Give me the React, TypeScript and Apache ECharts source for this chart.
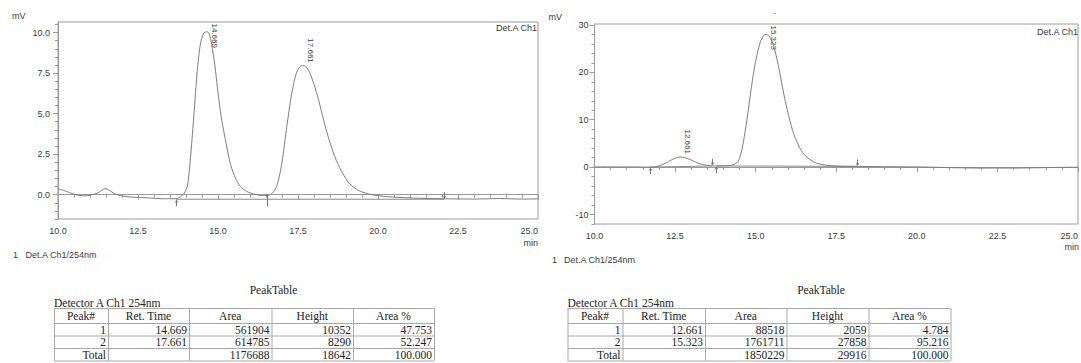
import React, { useEffect, useRef } from "react";
import * as echarts from "echarts";

// ---------- Data: left chromatogram ----------
const leftTime = [
  10.0, 10.2, 10.4, 10.6, 10.85, 11.0, 11.12, 11.22, 11.32, 11.42, 11.5, 11.6, 11.75, 11.95, 12.3, 12.8,
  13.3, 13.69, 13.85, 13.95, 14.05, 14.15, 14.25, 14.35, 14.45, 14.55, 14.65, 14.72, 14.8, 14.9, 15.0,
  15.1, 15.2, 15.3, 15.4, 15.55, 15.7, 15.9, 16.1, 16.35, 16.55, 16.7, 16.85, 17.0, 17.15, 17.3, 17.45,
  17.6, 17.7, 17.85, 18.0, 18.15, 18.3, 18.5, 18.7, 18.9, 19.1, 19.4, 19.8, 20.3, 21.0, 22.0, 23.0,
  23.8, 24.5, 25.0,
];
const leftSignal = [
  0.35, 0.25, 0.1, -0.02, -0.07, -0.03, 0.03, 0.08, 0.2, 0.33, 0.37, 0.28, 0.08, -0.06, -0.15, -0.2,
  -0.25, -0.25, -0.1, 0.1, 0.6, 2.5, 5.0, 7.6, 9.3, 9.95, 10.05, 9.95, 9.3, 8.0, 6.3,
  4.8, 3.7, 2.7, 1.8, 1.0, 0.5, 0.2, 0.05, -0.05, -0.05, 0.1, 0.6, 2.0, 4.2, 6.2, 7.5,
  7.95, 7.95, 7.6, 6.8, 5.8, 4.6, 3.2, 2.1, 1.3, 0.7, 0.25, 0.0, -0.12, -0.2, -0.25, -0.27,
  -0.24, -0.27, -0.26,
];
const leftBaselineTime = [13.69, 22.07];
const leftBaselineLevel = [-0.28, -0.28];
const leftMarkerTime = [13.69, 16.53, 22.07];
const leftMarkerLevel = [-0.28, -0.28, -0.28];
const leftMarkerSide = [1, 0, -1];
const leftPeakTime = [14.669, 17.661];
const leftPeakTop = [10.05, 7.95];

// ---------- Data: right chromatogram ----------
const rightTime = [
  10.0, 11.0, 11.7, 11.9, 12.1, 12.3, 12.5, 12.65, 12.8, 13.0, 13.2, 13.4, 13.6, 13.8, 14.1, 14.3,
  14.45, 14.55, 14.65, 14.75, 14.85, 14.95, 15.05, 15.15, 15.25, 15.33, 15.42, 15.5, 15.6, 15.7, 15.8,
  15.9, 16.0, 16.1, 16.2, 16.35, 16.5, 16.7, 16.9, 17.2, 17.6, 18.1, 19.0, 20.0, 21.0, 22.0, 23.0,
  24.0, 25.0,
];
const rightSignal = [
  0.05, 0.05, 0.0, 0.1, 0.5, 1.2, 1.9, 2.15, 2.0, 1.5, 0.9, 0.5, 0.3, 0.25, 0.3, 0.5,
  1.2, 3.0, 6.5, 11.0, 16.0, 20.5, 24.0, 26.5, 27.8, 28.05, 27.6, 26.6, 24.5, 21.5, 18.0,
  14.5, 11.5, 8.8, 6.6, 4.3, 2.7, 1.5, 0.8, 0.4, 0.2, 0.15, 0.1, 0.05, -0.1, -0.2, -0.2,
  -0.1, 0.0,
];
const rightBaselineSegments = [
  [[11.72, 0.0], [13.64, 0.25]],
  [[13.78, 0.25], [18.14, 0.15]],
];
const rightMarkerTime = [11.72, 13.64, 13.78, 18.14];
const rightMarkerLevel = [0.0, 0.25, 0.25, 0.15];
const rightMarkerSide = [1, -1, 1, -1];
const rightPeakTime = [12.661, 15.323];
const rightPeakTop = [2.15, 28.05];

// ---------- Tick labels ----------
const xTickLabels = [10.0, 12.5, 15.0, 17.5, 20.0, 22.5, 25.0];
const leftYTicks = [0, 2.5, 5, 7.5, 10];
const rightYTicks = [-10, 0, 10, 20, 30];

// ---------- Peak tables ----------
const tableHeaders = ["Peak#", "Ret. Time", "Area", "Height", "Area %"];
const leftTablePeak = ["1", "2", "Total"];
const leftTableRet = ["14.669", "17.661", ""];
const leftTableArea = ["561904", "614785", "1176688"];
const leftTableHeight = ["10352", "8290", "18642"];
const leftTablePct = ["47.753", "52.247", "100.000"];
const rightTablePeak = ["1", "2", "Total"];
const rightTableRet = ["12.661", "15.323", ""];
const rightTableArea = ["88518", "1761711", "1850229"];
const rightTableHeight = ["2059", "27858", "29916"];
const rightTablePct = ["4.784", "95.216", "100.000"];

const SANS = "'Liberation Sans', Arial, sans-serif";
const SERIF = "'Liberation Serif', 'Times New Roman', serif";
const AX = "#9a9a9a";
const TXT = "#3a3a3a";
const CURVE = "#7c7c7c";

function minorTicks(min: number, max: number, step: number, majors: number[]) {
  const out: number[] = [];
  const start = Math.ceil(min / step - 1e-9);
  const end = Math.floor(max / step + 1e-9);
  for (let i = start; i <= end; i++) {
    const v = +(i * step).toFixed(4);
    if (!majors.some((m) => Math.abs(m - v) < 1e-6)) out.push(v);
  }
  return out;
}

function textWidth(s: string, size: number) {
  let w = 0;
  for (const c of s) w += c === "." ? 0.278 : 0.556;
  return w * size;
}

export default function App() {
  const ref = useRef<HTMLDivElement>(null);

  useEffect(() => {
    if (!ref.current) return;
    const chart = echarts.init(ref.current, null, { renderer: "svg" });

    const grids = [
      { left: 58, top: 22, width: 480, height: 197 },
      { left: 594.5, top: 24, width: 484.5, height: 200 },
    ];
    const yRanges = [
      { min: -1.5, max: 10.65, majors: leftYTicks, step: 0.5, fmt: (v: number) => Number(v).toFixed(1) },
      { min: -12, max: 30.2, majors: rightYTicks, step: 2, fmt: (v: number) => String(Math.round(Number(v))) },
    ];

    const xAxes = grids.map((_, i) => ({
      type: "value",
      gridIndex: i,
      min: 10,
      max: 25,
      interval: 2.5,
      axisLine: { show: true, lineStyle: { color: AX, width: 1 } },
      axisTick: { show: true, length: 5, lineStyle: { color: AX } },
      minorTick: { show: true, splitNumber: 5, length: 3, lineStyle: { color: AX } },
      axisLabel: {
        color: TXT,
        fontSize: 9,
        fontFamily: SANS,
        margin: 7,
        alignMaxLabel: "right",
        customValues: xTickLabels,
        formatter: (v: number) => Number(v).toFixed(1),
      },
      splitLine: { show: false },
      minorSplitLine: { show: false },
    }));

    const yAxes: any[] = [];
    yRanges.forEach((r, i) => {
      yAxes.push({
        type: "value",
        gridIndex: i,
        position: "left",
        min: r.min,
        max: r.max,
        axisLine: { show: true, lineStyle: { color: AX, width: 1 } },
        axisTick: { show: true, length: 5, customValues: r.majors, lineStyle: { color: AX } },
        axisLabel: {
          customValues: r.majors,
          formatter: r.fmt,
          color: TXT,
          fontSize: 9,
          fontFamily: SANS,
          margin: i === 0 ? 8 : 6,
        },
        splitLine: { show: false },
      });
      yAxes.push({
        type: "value",
        gridIndex: i,
        position: "left",
        min: r.min,
        max: r.max,
        axisLine: { show: false },
        axisTick: {
          show: true,
          length: 3,
          customValues: minorTicks(r.min, r.max, r.step, r.majors),
          lineStyle: { color: AX },
        },
        axisLabel: { show: false },
        splitLine: { show: false },
      });
    });

    const markerRender = (params: any, api: any) => {
      const p = api.coord([api.value(0), api.value(1)]);
      const side = api.value(2);
      const x = Math.round(p[0]) + 0.5;
      const y = p[1];
      let y1 = y, y2 = y;
      const children: any[] = [];
      if (side > 0) {
        y1 = y + 1;
        y2 = y + 7;
        children.push({
          type: "polyline",
          shape: { points: [[x - 1.5, y + 3.5], [x, y + 1], [x + 1.5, y + 3.5]] },
          style: { stroke: "#777", fill: "none", lineWidth: 0.8 },
        });
      } else if (side < 0) {
        y1 = y - 7;
        y2 = y - 1;
        children.push({
          type: "polyline",
          shape: { points: [[x - 1.5, y - 3.5], [x, y - 1], [x + 1.5, y - 3.5]] },
          style: { stroke: "#777", fill: "none", lineWidth: 0.8 },
        });
      } else {
        y1 = y - 5;
        y2 = y + 7;
      }
      children.push({
        type: "line",
        shape: { x1: x, y1, x2: x, y2 },
        style: { stroke: "#777", lineWidth: 1 },
      });
      return { type: "group", children };
    };

    const series: any[] = [
      {
        type: "line",
        xAxisIndex: 0,
        yAxisIndex: 0,
        data: leftTime.map((t, i) => [t, leftSignal[i]]),
        showSymbol: false,
        smooth: 0.25,
        lineStyle: { color: CURVE, width: 1 },
        z: 3,
      },
      {
        type: "line",
        xAxisIndex: 0,
        yAxisIndex: 0,
        data: leftBaselineTime.map((t, i) => [t, leftBaselineLevel[i]]),
        showSymbol: false,
        lineStyle: { color: "#8a8a8a", width: 1 },
        z: 2,
      },
      {
        type: "custom",
        xAxisIndex: 0,
        yAxisIndex: 0,
        renderItem: markerRender,
        data: leftMarkerTime.map((t, i) => [t, leftMarkerLevel[i], leftMarkerSide[i]]),
        clip: false,
        z: 4,
      },
      {
        type: "line",
        xAxisIndex: 1,
        yAxisIndex: 2,
        data: rightTime.map((t, i) => [t, rightSignal[i]]),
        showSymbol: false,
        smooth: 0.25,
        lineStyle: { color: CURVE, width: 1 },
        z: 3,
      },
      ...rightBaselineSegments.map((seg) => ({
        type: "line",
        xAxisIndex: 1,
        yAxisIndex: 2,
        data: seg,
        showSymbol: false,
        lineStyle: { color: "#8a8a8a", width: 1 },
        z: 2,
      })),
      {
        type: "custom",
        xAxisIndex: 1,
        yAxisIndex: 2,
        renderItem: markerRender,
        data: rightMarkerTime.map((t, i) => [t, rightMarkerLevel[i], rightMarkerSide[i]]),
        clip: false,
        z: 4,
      },
    ];

    chart.setOption({
      animation: false,
      backgroundColor: "#ffffff",
      grid: grids.map((g) => ({
        ...g,
        show: true,
        borderColor: AX,
        borderWidth: 1,
        backgroundColor: "#ffffff",
        containLabel: false,
      })),
      xAxis: xAxes,
      yAxis: yAxes,
      series,
    });

    // ---------- graphics: texts, peak labels, tables ----------
    const g: any[] = [];
    const txt = (x: number, y: number, text: string, opts: any = {}) =>
      g.push({
        type: "text",
        x,
        y,
        silent: true,
        style: {
          text,
          fill: opts.fill || TXT,
          font: opts.font || `9px ${SANS}`,
          align: opts.align || "left",
          verticalAlign: opts.verticalAlign || "middle",
        },
      });

    // axis unit texts and chart titles
    txt(12, 16, "mV");
    txt(548.5, 17, "mV");
    txt(537, 28, "Det.A Ch1", { align: "right" });
    txt(1078, 32, "Det.A Ch1", { align: "right" });
    txt(538, 243, "min", { align: "right" });
    txt(1079, 247, "min", { align: "right" });
    txt(13, 254.5, "1");
    txt(25.5, 254.5, "Det.A Ch1/254nm");
    txt(552, 260, "1");
    txt(564, 260, "Det.A Ch1/254nm");
    txt(775, 12, "-", { font: `7px ${SANS}`, align: "center" });

    // rotated peak labels, placed via the axes' own scales
    const peakSets = [
      { times: leftPeakTime, tops: leftPeakTop, xi: 0, yi: 0, ymax: 10.65 },
      { times: rightPeakTime, tops: rightPeakTop, xi: 1, yi: 2, ymax: 30.2 },
    ];
    peakSets.forEach((s) => {
      const topPx = chart.convertToPixel({ yAxisIndex: s.yi } as any, s.ymax) as unknown as number;
      s.times.forEach((t, i) => {
        const p = chart.convertToPixel({ xAxisIndex: s.xi, yAxisIndex: s.yi } as any, [t, s.tops[i]]) as number[];
        const label = t.toFixed(3);
        const w = textWidth(label, 8);
        let ay = p[1] - 3;
        if (ay - w < topPx + 1.5) ay = topPx + 1.5 + w;
        g.push({
          type: "text",
          x: p[0] + 3.5,
          y: ay,
          rotation: -Math.PI / 2,
          silent: true,
          style: {
            text: label,
            fill: TXT,
            font: `8px ${SANS}`,
            align: "right",
            verticalAlign: "bottom",
          },
        });
      });
    });

    // peak tables
    const rowY = [308, 323, 335.5, 348, 360.5];
    const tables = [
      {
        cols: [54, 108, 189, 271.5, 353, 434],
        title: 273.5,
        cells: [leftTablePeak, leftTableRet, leftTableArea, leftTableHeight, leftTablePct],
      },
      {
        cols: [567.5, 622.5, 705, 786.5, 868.5, 950.5],
        title: 821,
        cells: [rightTablePeak, rightTableRet, rightTableArea, rightTableHeight, rightTablePct],
      },
    ];
    const TF = `11.5px ${SERIF}`;
    tables.forEach((tb) => {
      txt(tb.title, 289.5, "PeakTable", { font: TF, align: "center", fill: "#222" });
      txt(tb.cols[0], 302.5, "Detector A Ch1 254nm", { font: TF, fill: "#222" });
      const L = tb.cols[0], R = tb.cols[tb.cols.length - 1];
      rowY.forEach((y) =>
        g.push({
          type: "line",
          silent: true,
          shape: { x1: L, y1: y + 0.5, x2: R, y2: y + 0.5 },
          style: { stroke: "#a8a8a8", lineWidth: 1 },
        })
      );
      tb.cols.forEach((x) =>
        g.push({
          type: "line",
          silent: true,
          shape: { x1: x + 0.5, y1: rowY[0], x2: x + 0.5, y2: rowY[rowY.length - 1] },
          style: { stroke: "#a8a8a8", lineWidth: 1 },
        })
      );
      tableHeaders.forEach((h, c) => {
        const cx = (tb.cols[c] + tb.cols[c + 1]) / 2;
        txt(cx, (rowY[0] + rowY[1]) / 2 + 0.5, h, { font: TF, align: "center", fill: "#222" });
      });
      tb.cells.forEach((col, c) => {
        col.forEach((v, r) => {
          if (!v) return;
          txt(tb.cols[c + 1] - 2, (rowY[r + 1] + rowY[r + 2]) / 2 + 0.5, v, {
            font: TF,
            align: "right",
            fill: "#222",
          });
        });
      });
    });

    chart.setOption({ graphic: { elements: g } });

    return () => chart.dispose();
  }, []);

  return (
    <div
      ref={ref}
      style={{ position: "fixed", left: 0, top: 0, width: 1081, height: 363, background: "#fff" }}
    />
  );
}
